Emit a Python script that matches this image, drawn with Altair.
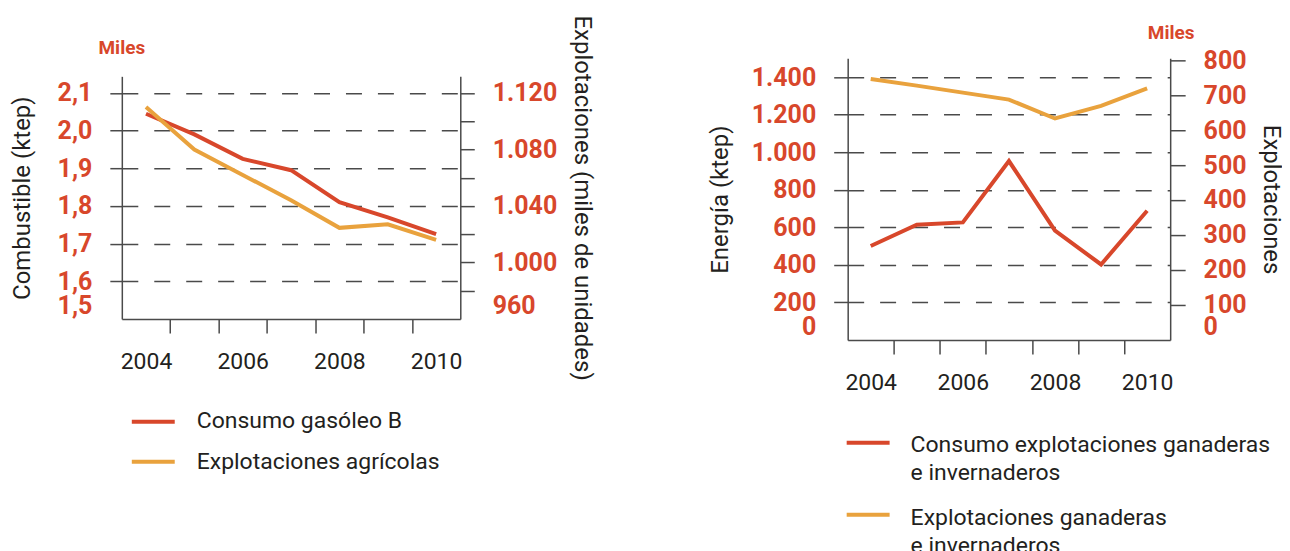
import altair as alt
import pandas as pd

# ---------------- data ----------------
years = [2004, 2005, 2006, 2007, 2008, 2009, 2010]
consumo_gasoleo_b = [2.045, 1.99, 1.925, 1.895, 1.81, 1.77, 1.725]          # ktep
explotaciones_agricolas = [1110, 1080, 1062, 1044, 1024.5, 1027, 1016]      # miles
consumo_ganaderas = [500, 614, 626, 953, 582, 402, 688]                     # ktep
explotaciones_ganaderas = [746, 727, 707, 687, 633, 669, 719]               # miles

left_ticks = [1.5, 1.6, 1.7, 1.8, 1.9, 2.0, 2.1]
left_right_ticks = [960, 980, 1000, 1020, 1040, 1060, 1080, 1100, 1120]
right_left_ticks = [0, 200, 400, 600, 800, 1000, 1200, 1400]
right_right_ticks = [0, 100, 200, 300, 400, 500, 600, 700, 800]
year_ticks = [2004.5, 2005.5, 2006.5, 2007.5, 2008.5, 2009.5, 2010.5]

df_left = pd.DataFrame({"year": years, "gasoleo": consumo_gasoleo_b, "agricolas": explotaciones_agricolas})
df_right = pd.DataFrame({"year": years, "consumo": consumo_ganaderas, "explot": explotaciones_ganaderas})

RED = "#d8472b"
ORANGE = "#e9a23d"
INK = "#231f20"
GRID = "#4a4a4a"
FONT = "Roboto"

LW, LH = 339, 243   # left plot
RW, RH = 323, 282   # right plot


def hide(test):
    return {"condition": {"test": test, "value": 0}, "value": 1}


def x_axis(band):
    return alt.Axis(
        values=year_ticks, title=None,
        labelExpr="(datum.value - 0.5) % 2 == 0 ? '' + (datum.value - 0.5) : ''",
        labelOffset=-band / 2, labelFlush=False, labelOverlap=False,
        labelFont=FONT, labelFontSize=23, labelColor=INK, labelPadding=18,
        tickSize=14, tickWidth=1.5, tickColor=GRID, tickOpacity=hide("datum.value > 2010"),
        domainColor=GRID, domainWidth=1.5, grid=False,
    )


def y_axis(values, orient, title, label_expr, hide_test, tick_size, title_x, title_y,
           grid, title_angle):
    kw = dict(
        values=values, orient=orient, title=title, labelExpr=label_expr,
        labelFont=FONT, labelFontSize=25, labelFontWeight="bold", labelColor=RED,
        labelPadding=18, labelFlush=True, labelOverlap=False,
        tickSize=tick_size, tickWidth=1.5, tickColor=GRID, tickOpacity=hide(hide_test),
        domainColor=GRID, domainWidth=1.5,
        titleFont=FONT, titleFontSize=24, titleFontWeight="normal", titleColor=INK,
        titleX=title_x, titleY=title_y, titleAngle=title_angle, titleBaseline="middle",
        titleAlign="center", titleLimit=1000, grid=grid,
    )
    if grid:
        kw.update(gridColor=GRID, gridWidth=1.5, gridDash=[16, 16], gridOpacity=hide(hide_test))
    return alt.Axis(**kw)


def one(text_df_val):
    return alt.Chart(pd.DataFrame({"k": [text_df_val]}))


def legend_swatch(x0, x1, y, color):
    return one(0).mark_rule(color=color, strokeWidth=4).encode(
        x=alt.value(x0), x2=alt.value(x1), y=alt.value(y))


def legend_label(x, y, text):
    return one(0).mark_text(align="left", baseline="middle", font=FONT, fontSize=23,
                            color=INK).encode(x=alt.value(x), y=alt.value(y), text=alt.value(text))


def miles(x, y):
    return one(0).mark_text(align="center", baseline="middle", font=FONT, fontSize=19,
                            fontWeight="bold", color=RED).encode(
        x=alt.value(x), y=alt.value(y), text=alt.value("Miles"))


# ---------------- left panel ----------------
xl = alt.X("year:Q", scale=alt.Scale(domain=[2003.5, 2010.5], nice=False, zero=False),
           axis=x_axis(LW / 7))
left_red = alt.Chart(df_left).mark_line(color=RED, strokeWidth=4).encode(
    x=xl,
    y=alt.Y("gasoleo:Q", scale=alt.Scale(domain=[1.5, 2.1443], nice=False, zero=False),
            axis=y_axis(left_ticks, "left", "Combustible (ktep)",
                        "replace(format(datum.value, '.1f'), '.', ',')",
                        "datum.value <= 1.5", 12, -99, LH / 2, True, -90)),
)
left_orange = alt.Chart(df_left).mark_line(color=ORANGE, strokeWidth=4).encode(
    x=xl,
    y=alt.Y("agricolas:Q", scale=alt.Scale(domain=[960, 1131.8], nice=False, zero=False),
            axis=y_axis(left_right_ticks, "right", "Explotaciones (miles de unidades)",
                        "datum.value % 40 == 0 ? replace(format(datum.value, ','), ',', '.') : ''",
                        "datum.value <= 960", 14, 121, LH / 2, False, 90)),
)
left_panel = alt.layer(
    left_red, left_orange,
    miles(0, -28),
    legend_swatch(10, 53, 346, RED), legend_label(75, 345, "Consumo gasóleo B"),
    legend_swatch(10, 53, 386, ORANGE), legend_label(75, 386, "Explotaciones agrícolas"),
).resolve_scale(y="independent").properties(width=LW, height=LH)

spacer = one(0).mark_point(opacity=0).encode(x=alt.value(0), y=alt.value(0)).properties(
    width=LW, height=18)
left_col = alt.vconcat(spacer, left_panel, spacing=0, bounds="flush")

# ---------------- right panel ----------------
xr = alt.X("year:Q", scale=alt.Scale(domain=[2003.5, 2010.5], nice=False, zero=False),
           axis=x_axis(RW / 7))
right_red = alt.Chart(df_right).mark_line(color=RED, strokeWidth=4).encode(
    x=xr,
    y=alt.Y("consumo:Q", scale=alt.Scale(domain=[0, 1500], nice=False, zero=False),
            axis=y_axis(right_left_ticks, "left", "Energía (ktep)",
                        "replace(format(datum.value, ','), ',', '.')",
                        "datum.value <= 0", 14, -127, RH / 2, True, -90)),
)
right_orange = alt.Chart(df_right).mark_line(color=ORANGE, strokeWidth=4).encode(
    x=xr,
    y=alt.Y("explot:Q", scale=alt.Scale(domain=[0, 805], nice=False, zero=False),
            axis=y_axis(right_right_ticks, "right", "Explotaciones",
                        "'' + datum.value",
                        "datum.value <= 0", 15, 100, RH / 2, False, 90)),
)
right_panel = alt.layer(
    right_red, right_orange,
    miles(RW + 1, -25),
    legend_swatch(-1, 42, 385, RED),
    legend_label(63, 387, "Consumo explotaciones ganaderas"),
    legend_label(63, 415, "e invernaderos"),
    legend_swatch(-1, 42, 457, ORANGE),
    legend_label(63, 460, "Explotaciones ganaderas"),
    legend_label(63, 488, "e invernaderos"),
).resolve_scale(y="independent").properties(width=RW, height=RH)

chart = alt.hconcat(left_col, right_panel, spacing=727, bounds="flush").properties(
    padding={"left": 2, "top": 6, "right": 0, "bottom": 0},
    background="white",
).configure_view(stroke=None)

chart.save("out.html", embed_options={"renderer": "svg", "actions": False})
